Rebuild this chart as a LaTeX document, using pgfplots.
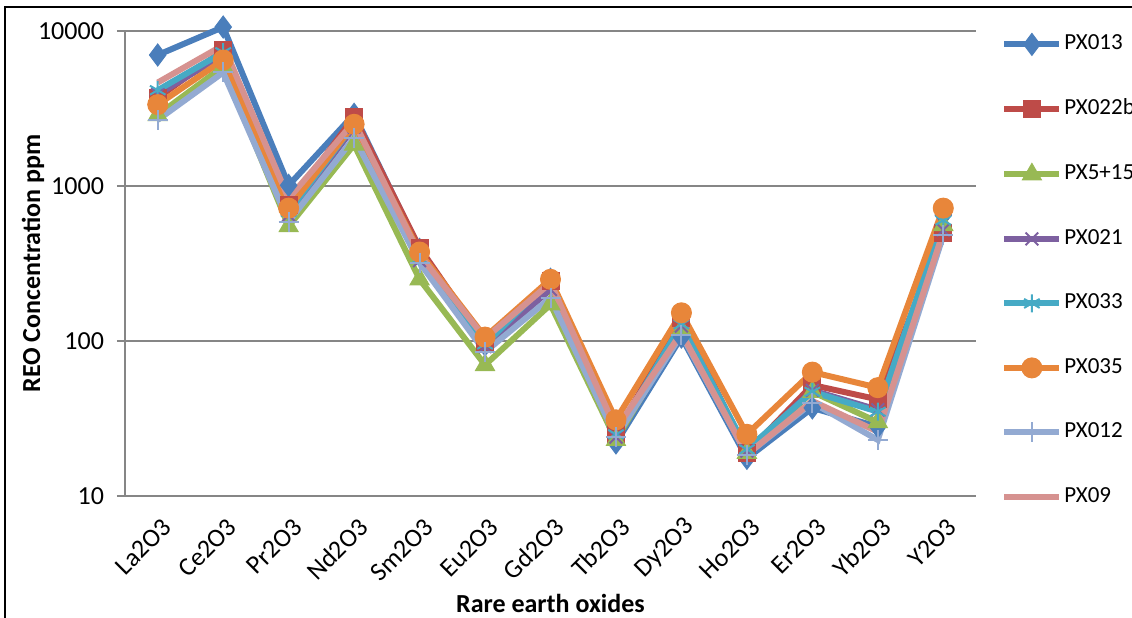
\documentclass[border=0pt]{standalone}
\usepackage{fontspec}
\setmainfont{Carlito}
\usepackage{pgfplots}
\pgfplotsset{compat=1.18}
\definecolor{cA}{HTML}{4A7EBB}
\definecolor{cB}{HTML}{BE4B48}
\definecolor{cC}{HTML}{98B954}
\definecolor{cD}{HTML}{7D60A0}
\definecolor{cE}{HTML}{46AAC5}
\definecolor{cF}{HTML}{E8863A}
\definecolor{cG}{HTML}{93AAD2}
\definecolor{cH}{HTML}{D69290}
\definecolor{gridgray}{HTML}{868686}
\begin{document}
\begin{tikzpicture}
\begin{axis}[
  at={(62.5pt,60.5pt)}, anchor=south west,
  scale only axis, width=425.5pt, height=232.5pt,
  ymode=log, ymin=10, ymax=10000,
  xmin=-0.5, xmax=12.5,
  clip=false,
  axis x line*=bottom, axis y line*=left,
  axis line style={draw=gridgray, line width=1pt, -},
  xtick={0,...,12},
  xticklabels={La2O3,Ce2O3,Pr2O3,Nd2O3,Sm2O3,Eu2O3,Gd2O3,Tb2O3,Dy2O3,Ho2O3,Er2O3,Yb2O3,Y2O3},
  xtick style={draw=none},
  xticklabel style={rotate=45, anchor=east, font=\fontsize{13}{15}\selectfont, xshift=0pt, yshift=-10pt},
  ytick={10,100,1000,10000},
  yticklabels={10,100,1000,10000},
  yminorticks=false,
  tick align=outside,
  major tick length=4pt,
  ytick style={draw=gridgray, line width=1pt},
  yticklabel style={font=\fontsize{13}{15}\selectfont, xshift=-3pt},
  ymajorgrids,
  major grid style={draw=gridgray, line width=1pt},
  /pgf/number format/assume math mode=true,
  xlabel={\textbf{Rare earth oxides}},
  xlabel style={at={(axis description cs:0.5,0)}, anchor=center, yshift=-53.5pt, font=\fontsize{13}{15}\selectfont},
  ylabel={\textbf{REO Concentration ppm}},
  ylabel style={at={(axis description cs:-0.108,0.5)}, anchor=center, font=\fontsize{13}{15}\selectfont},
  every axis plot/.append style={line width=3pt},
  legend image code/.code={\draw[mark repeat=2,mark phase=2] plot coordinates {(0pt,0pt)(13.75pt,0pt)(27.5pt,0pt)};},
  legend cell align=left,
  legend style={at={(1,1)}, anchor=north west, xshift=12.5pt, yshift=-1pt, draw=none, fill=none, inner sep=0pt,
    row sep=21.75pt, column sep=1pt, font=\fontsize{11.5}{13.5}\selectfont,
    nodes={inner sep=0pt, text height=8pt, text depth=2.5pt}},
]
\addplot[cA, mark=diamond*, mark size=5.5pt, mark options={solid, line width=0.5pt}] coordinates {
(0,7000)(1,10600)(2,1010)(3,2900)(4,390)(5,95)(6,250)(7,22)(8,106)(9,17.5)(10,37)(11,28)(12,650)};
\addlegendentry{PX013}
\addplot[cB, mark=square*, mark size=4.25pt, mark options={solid, line width=0.5pt}] coordinates {
(0,3700)(1,7500)(2,750)(3,2800)(4,400)(5,98)(6,245)(7,25)(8,140)(9,19)(10,52)(11,42)(12,500)};
\addlegendentry{PX022b}
\addplot[cC, mark=triangle*, mark size=5.5pt, mark options={solid, line width=0.5pt}] coordinates {
(0,2870)(1,5900)(2,550)(3,1850)(4,250)(5,70)(6,172)(7,23)(8,118)(9,19)(10,47)(11,30)(12,560)};
\addlegendentry{PX5+15}
\addplot[cD, mark=x, mark size=4.5pt, mark options={solid, line width=1pt}] coordinates {
(0,3900)(1,7000)(2,650)(3,2400)(4,330)(5,92)(6,215)(7,24)(8,125)(9,19.5)(10,48)(11,36)(12,520)};
\addlegendentry{PX021}
\addplot[cE, mark=asterisk, mark size=4.5pt, mark options={solid, line width=1pt}] coordinates {
(0,4150)(1,7300)(2,680)(3,2500)(4,340)(5,95)(6,250)(7,25)(8,128)(9,20)(10,47)(11,35)(12,600)};
\addlegendentry{PX033}
\addplot[cF, mark=*, mark size=5pt, mark options={solid, line width=0.5pt}] coordinates {
(0,3350)(1,6500)(2,720)(3,2500)(4,375)(5,106)(6,250)(7,31)(8,152)(9,25)(10,63)(11,50)(12,720)};
\addlegendentry{PX035}
\addplot[cG, mark=+, mark size=5pt, mark options={solid, line width=1pt}] coordinates {
(0,2670)(1,5400)(2,590)(3,2050)(4,320)(5,85)(6,190)(7,24)(8,110)(9,18.5)(10,40)(11,23)(12,480)};
\addlegendentry{PX012}
\addplot[cH, no marks] coordinates {
(0,4650)(1,8100)(2,830)(3,2600)(4,360)(5,104)(6,237)(7,27)(8,113)(9,18.5)(10,41)(11,26)(12,505)};
\addlegendentry{PX09}
\end{axis}
\draw[black, line width=1pt] (2.5pt,-10pt) -- (2.5pt,305pt) -- (600pt,305pt);
\pgfresetboundingbox
\path[use as bounding box] (0,0) rectangle (566pt,308.5pt);
\end{tikzpicture}
\end{document}
